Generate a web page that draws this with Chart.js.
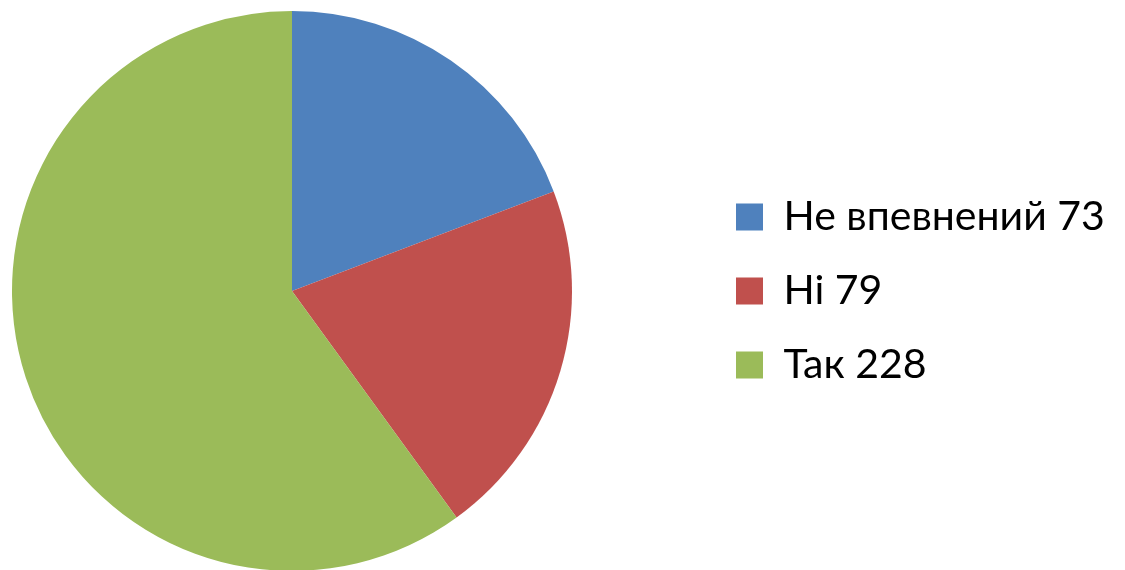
<!DOCTYPE html>
<html>
<head>
<meta charset="utf-8">
<script src="https://cdn.jsdelivr.net/npm/chart.js@4"></script>
<style>
  html, body { margin: 0; padding: 0; background: #fff; overflow: hidden; }
  #wrap { width: 1125px; height: 582px; position: relative; }
</style>
</head>
<body>
<div id="wrap"><canvas id="myChart"></canvas></div>
<script>
// PIE CHART
const categories = ['Не впевнений', 'Ні', 'Так'];
const values = [73, 79, 228];
const colors = ['#4F81BD', '#C0504D', '#9BBB59'];

const legendPad = 33;

// pin the pie to the left and the legend column next to it
const placeLegend = {
    id: 'placeLegend',
    afterLayout(chart) {
        const lg = chart.legend;
        const shift = (736 - legendPad) - lg.left;
        lg.left += shift;
        lg.right += shift;
        chart.chartArea = { left: 12, top: 11, right: 572, bottom: 571, width: 560, height: 560 };
    }
};

document.addEventListener("DOMContentLoaded", function() {
    const ctx = document.getElementById('myChart').getContext('2d');
    const myChart = new Chart(ctx, {
        type: 'pie',
        data: {
            labels: categories.map((c, i) => c + ' ' + values[i]),
            datasets: [{
                data: values,
                backgroundColor: colors,
                borderWidth: 0
            }]
        },
        options: {
            responsive: true,
            maintainAspectRatio: false,
            animation: false,
            plugins: {
                legend: {
                    position: 'right',
                    labels: {
                        boxWidth: 27,
                        boxHeight: 27,
                        padding: legendPad,
                        color: '#000',
                        font: { family: 'Lato', size: 41, lineHeight: 1.2 }
                    }
                },
                tooltip: { enabled: false }
            }
        },
        plugins: [placeLegend]
    });
});
</script>
</body>
</html>
